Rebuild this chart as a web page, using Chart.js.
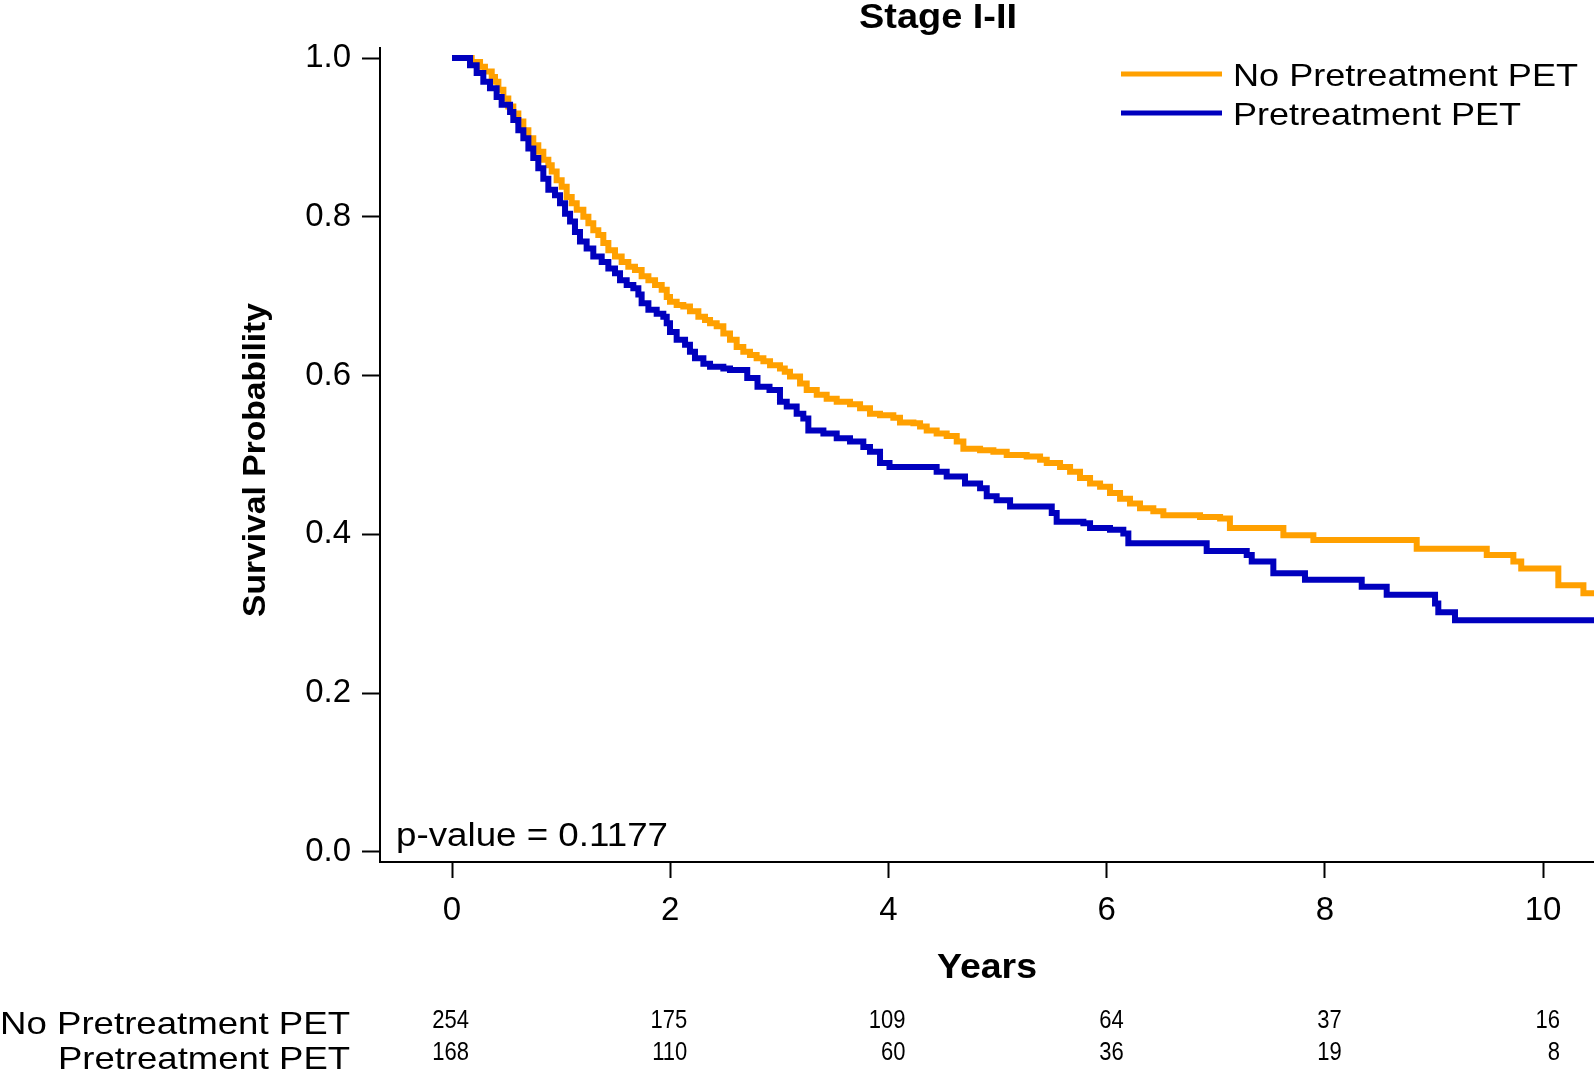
<!DOCTYPE html>
<html>
<head>
<meta charset="utf-8">
<title>Stage I-II</title>
<script src="https://cdn.jsdelivr.net/npm/chart.js@4.4.1/dist/chart.umd.min.js"></script>
<style>
    html, body { margin: 0; padding: 0; background: #fff; }
    #km { display: block; }
</style>
</head>
<body>
<canvas id="km" width="1594" height="1076"></canvas>
<script>
// Kaplan-Meier steps: time (years) where the curve drops, and survival after the drop
var noPetTime = [0, 0.18, 0.257, 0.302, 0.364, 0.394, 0.425, 0.471, 0.516, 0.562, 0.608, 0.654, 0.70, 0.745, 0.791, 0.837, 0.883, 0.914, 0.959, 1.005,
    1.051, 1.097, 1.143, 1.204, 1.25, 1.295, 1.341, 1.387, 1.433, 1.494, 1.555, 1.616, 1.677, 1.738, 1.80, 1.861, 1.922, 1.968, 1.998, 2.059,
    2.12, 2.181, 2.258, 2.319, 2.365, 2.426, 2.487, 2.548, 2.609, 2.67, 2.731, 2.792, 2.854, 2.915, 3.006, 3.05, 3.098, 3.19, 3.251, 3.343,
    3.434, 3.526, 3.648, 3.74, 3.831, 3.923, 4.045, 4.106, 4.229, 4.29, 4.351, 4.442, 4.534, 4.626, 4.687, 4.84, 4.962, 5.084, 5.267, 5.39,
    5.451, 5.573, 5.665, 5.756, 5.848, 5.94, 6.031, 6.123, 6.214, 6.306, 6.428, 6.52, 6.856, 7.04, 7.13, 7.62, 7.895, 8.842, 9.484, 9.728,
    9.80, 10.14, 10.37, 10.47];
var noPetSurv = [1.0, 0.995, 0.989, 0.983, 0.976, 0.970, 0.960, 0.949, 0.939, 0.930, 0.920, 0.909, 0.899, 0.890, 0.882, 0.872, 0.865, 0.857, 0.846, 0.838,
    0.825, 0.817, 0.809, 0.800, 0.792, 0.783, 0.777, 0.767, 0.758, 0.750, 0.743, 0.737, 0.733, 0.725, 0.720, 0.714, 0.708, 0.699, 0.693, 0.689,
    0.687, 0.681, 0.674, 0.670, 0.666, 0.662, 0.653, 0.645, 0.636, 0.630, 0.626, 0.622, 0.618, 0.613, 0.609, 0.605, 0.599, 0.590, 0.582, 0.576,
    0.571, 0.567, 0.564, 0.559, 0.552, 0.550, 0.547, 0.541, 0.540, 0.536, 0.531, 0.527, 0.524, 0.517, 0.508, 0.506, 0.504, 0.500, 0.498, 0.494,
    0.490, 0.485, 0.479, 0.471, 0.464, 0.460, 0.452, 0.445, 0.439, 0.433, 0.429, 0.424, 0.422, 0.420, 0.408, 0.399, 0.393, 0.382, 0.374, 0.366,
    0.357, 0.336, 0.326, 0.326];

var petTime = [0, 0.165, 0.226, 0.287, 0.348, 0.409, 0.455, 0.532, 0.562, 0.608, 0.654, 0.70, 0.745, 0.791, 0.837, 0.883, 0.944, 0.99, 1.036, 1.082,
    1.127, 1.173, 1.234, 1.295, 1.372, 1.433, 1.494, 1.54, 1.601, 1.662, 1.708, 1.738, 1.80, 1.876, 1.937, 1.968, 1.998, 2.059, 2.136, 2.181,
    2.227, 2.304, 2.365, 2.487, 2.548, 2.706, 2.80, 2.91, 3.006, 3.068, 3.159, 3.22, 3.266, 3.404, 3.526, 3.648, 3.77, 3.831, 3.923, 4.01,
    4.442, 4.534, 4.702, 4.84, 4.901, 4.992, 5.115, 5.497, 5.542, 5.787, 5.848, 6.031, 6.153, 6.199, 6.917, 7.284, 7.33, 7.528, 7.818, 8.338,
    8.567, 9.01, 9.04, 9.193, 10.47];
var petSurv = [1.0, 0.991, 0.981, 0.970, 0.962, 0.951, 0.941, 0.932, 0.922, 0.909, 0.899, 0.886, 0.874, 0.861, 0.848, 0.834, 0.827, 0.817, 0.804, 0.794,
    0.781, 0.769, 0.760, 0.750, 0.743, 0.735, 0.729, 0.720, 0.714, 0.710, 0.702, 0.691, 0.683, 0.678, 0.674, 0.666, 0.655, 0.645, 0.639, 0.630,
    0.622, 0.615, 0.611, 0.609, 0.607, 0.597, 0.586, 0.582, 0.567, 0.561, 0.552, 0.546, 0.531, 0.527, 0.521, 0.517, 0.510, 0.504, 0.490, 0.485,
    0.479, 0.473, 0.464, 0.458, 0.448, 0.443, 0.435, 0.427, 0.416, 0.414, 0.408, 0.406, 0.401, 0.389, 0.379, 0.374, 0.366, 0.351, 0.343, 0.334,
    0.324, 0.313, 0.302, 0.292, 0.292];

var xTicks = [0, 2, 4, 6, 8, 10];
var yTicks = [0, 0.2, 0.4, 0.6, 0.8, 1.0];

// number at risk
var riskYears = [0, 2, 4, 6, 8, 10];
var riskNoPet = [254, 175, 109, 64, 37, 16];
var riskPet = [168, 110, 60, 36, 19, 8];

var groupNames = ['No Pretreatment PET', 'Pretreatment PET'];
var pValueText = 'p-value = 0.1177';

var FONT = 'Liberation Sans, Arial, sans-serif';

function toPoints(t, s) {
    return t.map(function (v, i) { return { x: v, y: s[i] }; });
}

// the source picture is a bit stretched sideways, so text is drawn with an x scale
function drawText(ctx, text, x, y, font, align, width) {
    ctx.save();
    ctx.font = font;
    var sx = width ? width / ctx.measureText(text).width : 1;
    ctx.translate(x, y);
    ctx.scale(sx, 1);
    ctx.textAlign = align;
    ctx.textBaseline = 'alphabetic';
    ctx.fillStyle = '#000';
    ctx.fillText(text, 0, 0);
    ctx.restore();
}

var annotations = {
    id: 'annotations',
    afterDraw: function (chart) {
        var ctx = chart.ctx;
        var xs = chart.scales.x;
        var area = chart.chartArea;
        var ds = chart.data.datasets;

        // title
        drawText(ctx, 'Stage I-II', 938, 28, 'bold 35px ' + FONT, 'center', 158);

        // axis titles
        drawText(ctx, 'Years', (area.left + area.right) / 2, 978, 'bold 35px ' + FONT, 'center', 100);
        ctx.save();
        ctx.translate(265, 460);
        ctx.rotate(-Math.PI / 2);
        drawText(ctx, 'Survival Probability', 0, 0, 'bold 31px ' + FONT, 'center', 314);
        ctx.restore();

        // p-value
        drawText(ctx, pValueText, 396, 846, '33px ' + FONT, 'left', 272);

        // legend
        var legendY = [74, 113];
        var legendW = [345, 288];
        ds.forEach(function (d) {
            var k = groupNames.indexOf(d.label);
            ctx.save();
            ctx.strokeStyle = d.borderColor;
            ctx.lineWidth = 5;
            ctx.beginPath();
            ctx.moveTo(1121, legendY[k]);
            ctx.lineTo(1222, legendY[k]);
            ctx.stroke();
            ctx.restore();
            drawText(ctx, d.label, 1233, legendY[k] + 12, '32px ' + FONT, 'left', legendW[k]);
        });

        // risk table
        drawText(ctx, groupNames[0], 350, 1034, '32px ' + FONT, 'right', 350);
        drawText(ctx, groupNames[1], 350, 1069, '32px ' + FONT, 'right', 292);
        riskYears.forEach(function (yr, i) {
            var px = xs.getPixelForValue(yr) + 17;
            ctx.save();
            ctx.font = '25px ' + FONT;
            var w1 = ctx.measureText(String(riskNoPet[i])).width * 0.88;
            var w2 = ctx.measureText(String(riskPet[i])).width * 0.88;
            ctx.restore();
            drawText(ctx, String(riskNoPet[i]), px, 1028, '25px ' + FONT, 'right', w1);
            drawText(ctx, String(riskPet[i]), px, 1060, '25px ' + FONT, 'right', w2);
        });
    }
};

var ctx = document.getElementById('km').getContext('2d');

var kmChart = new Chart(ctx, {
    type: 'line',
    data: {
        datasets: [
            {
                label: groupNames[1],
                data: toPoints(petTime, petSurv),
                borderColor: '#0000BE',
                borderWidth: 6,
                stepped: true,
                fill: false,
                pointRadius: 0,
                borderJoinStyle: 'miter',
                order: 0
            },
            {
                label: groupNames[0],
                data: toPoints(noPetTime, noPetSurv),
                borderColor: '#FFA000',
                borderWidth: 6,
                stepped: true,
                fill: false,
                pointRadius: 0,
                borderJoinStyle: 'miter',
                order: 1
            }
        ]
    },
    options: {
        responsive: false,
        animation: false,
        devicePixelRatio: 1,
        layout: { padding: { top: 48, left: 0, right: 0, bottom: 0 } },
        plugins: {
            legend: { display: false },
            tooltip: { enabled: false },
            title: { display: false }
        },
        scales: {
            x: {
                type: 'linear',
                min: -0.66,
                max: 10.467,
                afterBuildTicks: function (scale) {
                    scale.ticks = xTicks.map(function (v) { return { value: v }; });
                },
                afterFit: function (scale) { scale.height = 214; },
                border: { display: true, color: '#000', width: 2 },
                grid: { drawOnChartArea: false, drawTicks: true, tickLength: 16, tickWidth: 2, tickColor: '#000' },
                ticks: {
                    autoSkip: false,
                    maxRotation: 0,
                    padding: 13,
                    color: '#000',
                    font: { family: FONT, size: 33 },
                    callback: function (v) { return String(v); }
                }
            },
            y: {
                type: 'linear',
                min: -0.0126,
                max: 1.0126,
                afterBuildTicks: function (scale) {
                    scale.ticks = yTicks.map(function (v) { return { value: v }; });
                },
                afterFit: function (scale) { scale.width = 380; },
                border: { display: true, color: '#000', width: 2 },
                grid: { drawOnChartArea: false, drawTicks: true, tickLength: 18, tickWidth: 2, tickColor: '#000' },
                ticks: {
                    autoSkip: false,
                    padding: 11,
                    color: '#000',
                    font: { family: FONT, size: 33 },
                    callback: function (v) { return v.toFixed(1); }
                }
            }
        }
    },
    plugins: [annotations]
});
</script>
</body>
</html>
